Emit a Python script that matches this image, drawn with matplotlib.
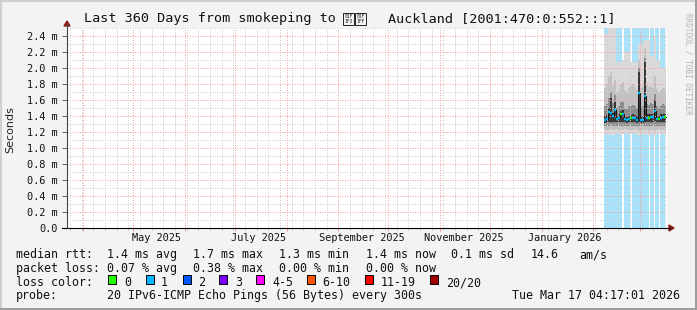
import matplotlib
matplotlib.use("Agg")
import matplotlib.pyplot as plt
import matplotlib.dates as mdates
from matplotlib.lines import Line2D
from matplotlib.patches import Rectangle, Polygon
from matplotlib.ticker import MultipleLocator, FuncFormatter, NullFormatter
import numpy as np
import pandas as pd

W, H = 697, 310
MONO = "DejaVu Sans Mono"

# graph time window
t_start = pd.Timestamp("2025-03-22 04:17:01")
t_end = pd.Timestamp("2026-03-17 04:17:01")

# x labels (rrdtool centres them mid-month)
label_dates = ["2025-05-15", "2025-07-15", "2025-09-15", "2025-11-15", "2026-01-15"]
label_texts = ["May 2025", "July 2025", "September 2025", "November 2025", "January 2026"]

# light blue background columns
blue_spans = [
    ("2026-02-07 09:00", "2026-02-18 04:00"),
    ("2026-02-19 09:00", "2026-02-22 23:00"),
    ("2026-02-24 04:00", "2026-03-06 09:00"),
    ("2026-03-06 23:00", "2026-03-09 09:00"),
    ("2026-03-09 23:00", "2026-03-12 09:00"),
    ("2026-03-12 23:00", "2026-03-15 23:00"),
]

# consolidated rrd rows (one every 1.2 days), values in ms
first_row = "2026-02-07 09:00"
row_step_days = 1.2
p_min = [1.18, 1.17, 1.16, 1.18, 1.15, 1.17, 1.19, 1.18, 1.16, 1.17, 1.19, 1.18, 1.18, 1.17, 1.18, 1.19,
         1.16, 1.15, 1.17, 1.18, 1.16, 1.17, 1.15, 1.18, 1.17, 1.14, 1.18, 1.19, 1.16, 1.17, 1.18]
p10 = [1.23, 1.23, 1.22, 1.24, 1.22, 1.23, 1.24, 1.23, 1.22, 1.23, 1.24, 1.23, 1.23, 1.22, 1.23, 1.24,
       1.22, 1.21, 1.22, 1.23, 1.22, 1.23, 1.21, 1.23, 1.23, 1.21, 1.23, 1.24, 1.22, 1.23, 1.23]
p25 = [1.27, 1.28, 1.28, 1.29, 1.27, 1.28, 1.28, 1.27, 1.28, 1.28, 1.28, 1.27, 1.28, 1.27, 1.28, 1.28,
       1.27, 1.27, 1.27, 1.28, 1.27, 1.28, 1.27, 1.28, 1.28, 1.28, 1.27, 1.28, 1.28, 1.28, 1.28]
p40 = [1.31, 1.32, 1.33, 1.33, 1.32, 1.33, 1.32, 1.32, 1.33, 1.33, 1.32, 1.31, 1.32, 1.32, 1.33, 1.32,
       1.31, 1.32, 1.31, 1.31, 1.32, 1.33, 1.32, 1.33, 1.33, 1.34, 1.32, 1.32, 1.33, 1.33, 1.33]
median = [1.35, 1.36, 1.45, 1.44, 1.40, 1.47, 1.36, 1.38, 1.43, 1.43, 1.36, 1.35, 1.36, 1.37, 1.38, 1.37,
          1.35, 1.69, 1.35, 1.35, 1.65, 1.38, 1.38, 1.39, 1.39, 1.46, 1.36, 1.36, 1.38, 1.39, 1.39]
p60 = [1.40, 1.41, 1.50, 1.62, 1.44, 1.58, 1.40, 1.42, 1.46, 1.47, 1.40, 1.39, 1.40, 1.41, 1.42, 1.41,
       1.40, 1.95, 1.39, 1.40, 2.08, 1.42, 1.42, 1.43, 1.43, 1.60, 1.40, 1.40, 1.42, 1.43, 1.42]
p75 = [1.52, 1.55, 1.62, 1.70, 1.56, 1.66, 1.50, 1.52, 1.57, 1.58, 1.50, 1.49, 1.52, 1.53, 1.54, 1.52,
       1.50, 2.00, 1.50, 1.52, 2.12, 1.55, 1.54, 1.56, 1.55, 1.68, 1.52, 1.50, 1.53, 1.55, 1.54]
p90 = [1.75, 1.80, 1.90, 1.95, 1.78, 1.85, 1.70, 1.72, 1.80, 1.82, 1.72, 1.70, 1.75, 1.78, 1.80, 1.76,
       1.72, 2.10, 1.75, 1.78, 2.25, 1.80, 1.76, 1.78, 1.75, 1.90, 1.74, 1.70, 1.72, 1.75, 1.74]
p_max = [2.42, 2.42, 2.50, 2.50, 2.50, 2.50, 2.08, 2.08, 2.08, 2.10, 2.20, 2.20, 2.20, 2.07, 2.07, 2.07,
         2.07, 2.30, 2.30, 2.30, 2.35, 2.35, 2.35, 2.15, 2.15, 2.40, 2.10, 2.10, 2.00, 2.00, 2.00]
# loss bucket of each row (index into loss_colors)
loss_bucket = [1, 1, 1, 1, 1, 1, 1, 1, 0, 1, 1, 1, 1, 0, 1, 1,
               1, 1, 1, 1, 1, 1, 0, 1, 1, 1, 1, 0, 1, 1, 0]

loss_labels = ["0", "1", "2", "3", "4-5", "6-10", "11-19", "20/20"]
loss_colors = ["#26ff00", "#00b8ff", "#0059ff", "#7e00ff", "#ff00ff", "#ff5500", "#ff0000", "#a10000"]

legend_rows = [
    ["median rtt:", "1.4 ms avg", "1.7 ms max", "1.3 ms min", "1.4 ms now", "0.1 ms sd", "14.6", "am/s"],
    ["packet loss:", "0.07 % avg", "0.38 % max", "0.00 % min", "0.00 % now"],
]
probe_text = "20 IPv6-ICMP Echo Pings (56 Bytes) every 300s"
stamp_text = "Tue Mar 17 04:17:01 2026"
title_head = "Last 360 Days from smokeping to"
title_tail = "Auckland [2001:470:0:552::1]"
# the NZ flag (U+1F1F3 U+1F1FF) has no glyph in any installed font; rrdtool drew hex boxes
flag_codes = [("01F", "1F3"), ("01F", "1FF")]


def fx(x):
    return x / W


def fy(y):
    return 1 - y / H


fig = plt.figure(figsize=(W / 100, H / 100), dpi=100, facecolor="#f3f3f3")
ax = fig.add_axes([fx(67), fy(228), 600 / W, 200 / H])
ax.set_facecolor("white")

x0 = mdates.date2num(t_start.to_pydatetime())
x1 = mdates.date2num(t_end.to_pydatetime())
ax.set_xlim(x0, x1)
ax.set_ylim(0, 2.5)

# background columns
for a, b in blue_spans:
    ax.axvspan(mdates.date2num(pd.Timestamp(a).to_pydatetime()),
               mdates.date2num(pd.Timestamp(b).to_pydatetime()),
               color="#a9e2fb", lw=0, zorder=0.8)

# smoke
rows = pd.date_range(first_row, periods=len(median), freq="1728min")
xr = mdates.date2num(rows.to_pydatetime())
bands = [(p_min, p_max, "#dadada"), (p10, p90, "#c2c2c2"),
         (p25, p75, "#8c8c8c"), (p40, p60, "#383838")]
for lo, hi, c in bands:
    lo = np.array(lo)
    hi = np.array(hi)
    ax.bar(xr, hi - lo, bottom=lo, width=row_step_days, align="edge",
           color=c, lw=0, zorder=1)

# median, coloured by loss
ax.plot(np.append(xr, xr[-1] + row_step_days), np.append(median, median[-1]),
        drawstyle="steps-post", color="#111111", lw=0.7, zorder=3)
ax.hlines(median, xr, xr + row_step_days,
          colors=[loss_colors[b] for b in loss_bucket], lw=1.7, zorder=4)

# grid
ax.yaxis.set_major_locator(MultipleLocator(0.2))
ax.yaxis.set_minor_locator(MultipleLocator(0.1))
ax.yaxis.set_major_formatter(FuncFormatter(lambda v, p: "0.0" if abs(v) < 1e-9 else f"{v:.1f} m"))
ax.xaxis.set_major_locator(mdates.MonthLocator())
ax.xaxis.set_minor_locator(mdates.WeekdayLocator(byweekday=mdates.MO))
ax.xaxis.set_major_formatter(NullFormatter())
ax.set_axisbelow(False)
ax.grid(which="minor", color="#cdcdcd", linestyle=(0, (1, 1.5)), lw=0.72, zorder=2.4)
ax.grid(which="major", color="#f2a0a0", linestyle=(0, (1, 1.5)), lw=0.72, zorder=2.5)

ax.tick_params(axis="y", which="major", length=3.6, width=0.72, color="#666666",
               labelsize=7.4, labelcolor="#111111", pad=3)
ax.tick_params(axis="y", which="minor", length=0)
ax.tick_params(axis="x", which="major", length=2.2, width=0.72, color="#ee8f8f")
ax.tick_params(axis="x", which="minor", length=1.5, width=0.72, color="#bbbbbb")
for lab in ax.get_yticklabels():
    lab.set_family(MONO)
for s in ax.spines.values():
    s.set_visible(False)

for d, t in zip(label_dates, label_texts):
    xd = mdates.date2num(pd.Timestamp(d).to_pydatetime())
    fig.text(fx(67 + (xd - x0) / (x1 - x0) * 600), fy(241), t, family=MONO,
             size=7.4, ha="center", va="baseline", color="#111111")

# axis lines and arrows
fig.add_artist(Line2D([fx(62), fx(670)], [fy(228), fy(228)], color="black", lw=0.8))
fig.add_artist(Line2D([fx(67), fx(67)], [fy(228), fy(24)], color="#444444", lw=0.8))
fig.add_artist(Polygon([(fx(64), fy(26)), (fx(70), fy(26)), (fx(67), fy(21))],
                       closed=True, color="#8b1c1c", transform=fig.transFigure))
fig.add_artist(Polygon([(fx(669), fy(225)), (fx(669), fy(231)), (fx(674), fy(228))],
                       closed=True, color="#8b1c1c", transform=fig.transFigure))

# title
fig.text(fx(84), fy(22), title_head, family=MONO, size=9.7, ha="left", va="baseline", color="#111111")
for (top, bot), bx in zip(flag_codes, [343, 355]):
    fig.add_artist(Rectangle((fx(bx), fy(25)), 11 / W, 12 / H, facecolor="none",
                             edgecolor="#222222", lw=0.7, transform=fig.transFigure))
    fig.text(fx(bx + 5.5), fy(16.2), top, family=MONO, size=3.3, ha="center", va="center", color="#222222")
    fig.text(fx(bx + 5.5), fy(21.5), bot, family=MONO, size=3.3, ha="center", va="center", color="#222222")
fig.text(fx(388), fy(22), title_tail, family=MONO, size=9.7, ha="left", va="baseline", color="#111111")

fig.text(fx(10), fy(130), "Seconds", family="DejaVu Sans", size=8, rotation=90,
         ha="center", va="center", color="#222222")
fig.text(fx(688), fy(64), "RRDTOOL / TOBI OETIKER", family=MONO, size=5.5, rotation=270,
         ha="center", va="center", color="#b3b3b3")

row_xs = [16, 107, 193, 279, 366, 451, 531, 579]
for row, yb in zip(legend_rows, [258, 272]):
    for t, xx in zip(row, row_xs):
        fig.text(fx(xx), fy(yb), t, family=MONO, size=8.4, va="baseline", color="#111111")

fig.text(fx(16), fy(286), "loss color:", family=MONO, size=8.4, va="baseline", color="#111111")
sw_x = [108, 146, 183, 219, 256, 307, 365, 430]
tx_x = [124, 161, 198, 235, 272, 322, 381, 446]
for c, lab, sx, tx in zip(loss_colors, loss_labels, sw_x, tx_x):
    fig.add_artist(Rectangle((fx(sx), fy(284)), 8 / W, 9 / H, facecolor=c, edgecolor="black",
                             lw=0.7, transform=fig.transFigure))
    fig.text(fx(tx), fy(286), lab, family=MONO, size=8.4, va="baseline", color="#111111")

fig.text(fx(16), fy(299), "probe:", family=MONO, size=8.4, va="baseline", color="#111111")
fig.text(fx(107), fy(299), probe_text, family=MONO, size=8.4, va="baseline", color="#111111")
fig.text(fx(680), fy(299), stamp_text, family=MONO, size=8.4, ha="right", va="baseline", color="#111111")

# frame
fig.add_artist(Line2D([0, 1], [fy(1), fy(1)], color="#d0d0d0", lw=1.5))
fig.add_artist(Line2D([fx(1), fx(1)], [0, 1], color="#d0d0d0", lw=1.5))
fig.add_artist(Line2D([0, 1], [fy(308.5), fy(308.5)], color="#9e9e9e", lw=2.2))
fig.add_artist(Line2D([fx(695.5), fx(695.5)], [0, 1], color="#9e9e9e", lw=2.2))

fig.savefig("out.png", dpi=100, facecolor=fig.get_facecolor())
